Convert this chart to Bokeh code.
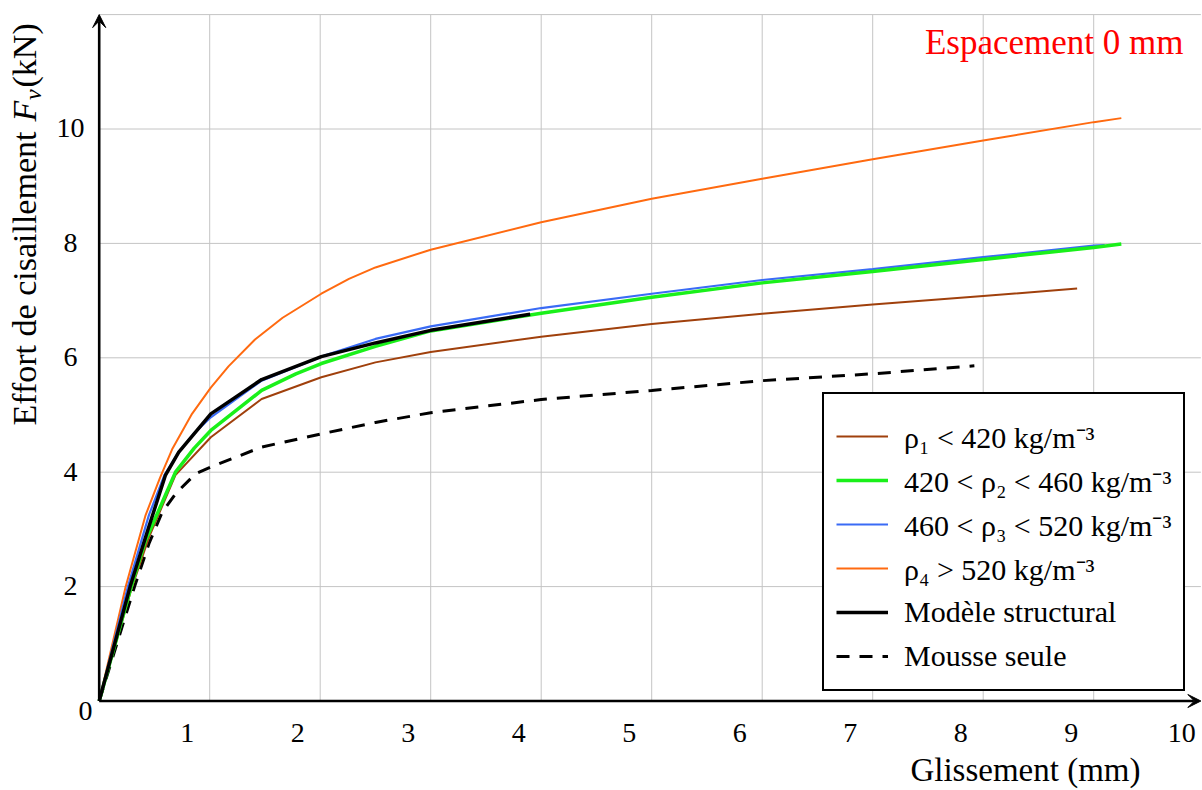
from math import pi
from bokeh.plotting import figure
from bokeh.models import Range1d, Legend, LegendItem, Arrow, VeeHead
from bokeh.core.properties import value
from bokeh.embed import file_html
from bokeh.resources import INLINE

# ---------------- data (Glissement mm, Effort de cisaillement kN) ----------------
rho1_x = [0, 0.29, 0.45, 0.69, 1.01, 1.47, 2.01, 2.5, 3.0, 4.0, 5.0, 6.0, 7.0, 8.0, 8.85]
rho1_y = [0, 1.95, 2.86, 3.95, 4.61, 5.28, 5.66, 5.92, 6.10, 6.37, 6.59, 6.77, 6.93, 7.08, 7.21]

rho2_x = [0, 0.29, 0.42, 0.69, 0.86, 1.01, 1.47, 1.78, 2.01, 2.5, 3.0, 4.0, 5.0, 6.0, 7.0, 8.0, 9.0, 9.25]
rho2_y = [0, 2.00, 2.81, 4.00, 4.42, 4.73, 5.43, 5.72, 5.90, 6.20, 6.47, 6.78, 7.06, 7.31, 7.51, 7.72, 7.93, 7.99]

rho3_x = [0, 0.26, 0.45, 0.59, 0.72, 0.86, 1.01, 1.47, 2.01, 2.5, 3.0, 4.0, 5.0, 6.0, 7.0, 8.0, 9.0, 9.10]
rho3_y = [0, 2.00, 3.25, 3.95, 4.35, 4.68, 4.96, 5.60, 6.02, 6.33, 6.55, 6.87, 7.12, 7.36, 7.55, 7.76, 7.96, 7.97]

rho4_x = [0, 0.24, 0.42, 0.55, 0.66, 0.84, 1.01, 1.17, 1.41, 1.66, 2.01, 2.26, 2.50, 3.0, 4.0, 5.0, 6.0, 7.0, 8.0, 9.0, 9.25]
rho4_y = [0, 2.00, 3.25, 3.90, 4.40, 5.02, 5.48, 5.85, 6.32, 6.70, 7.12, 7.38, 7.58, 7.89, 8.37, 8.78, 9.13, 9.47, 9.80, 10.12, 10.19]

model_x = [0, 0.28, 0.45, 0.60, 0.72, 1.01, 1.47, 2.01, 2.5, 3.0, 3.90]
model_y = [0, 2.00, 3.05, 3.95, 4.35, 5.02, 5.62, 6.02, 6.26, 6.48, 6.76]

foam_x = [0, 0.32, 0.45, 0.57, 0.69, 0.87, 1.01, 1.47, 2.01, 2.5, 3.0, 4.0, 5.0, 6.0, 7.0, 7.92]
foam_y = [0, 2.00, 2.75, 3.30, 3.62, 3.97, 4.09, 4.44, 4.67, 4.87, 5.04, 5.27, 5.43, 5.60, 5.72, 5.86]

labels = ["ρ₁ < 420 kg/m⁻³", "420 < ρ₂ < 460 kg/m⁻³", "460 < ρ₃ < 520 kg/m⁻³",
          "ρ₄ > 520 kg/m⁻³", "Modèle structural", "Mousse seule"]

x_ticks = [1, 2, 3, 4, 5, 6, 7, 8, 9, 10]
y_ticks = [2, 4, 6, 8, 10]
x_grid = [1, 2, 3, 4, 5, 6, 7, 8, 9, 10]
y_grid = [2, 4, 6, 8, 10, 12]

# ---------------- styling / layout ----------------
BROWN = "#A0400C"
GREEN = "#1AF01A"
BLUE = "#3A6BF5"
ORANGE = "#FF6A10"
GRID = "#c4c4c4"
FONT = "Liberation Serif"

W, H = 1202, 790
OX, OY = 98.7, 700.5          # canvas position of the origin (px from top-left)
SX, SY = 110.5, 57.2          # px per mm, px per kN
X_MAX, Y_MAX = 9.97, 12
BASE = 0.34                   # baseline correction, in em


def xd(px):
    return (px - OX) / SX


def yd(py):
    return (OY - py) / SY


def yb(py, fs):
    """data y for a text whose alphabetic baseline should sit at canvas row py"""
    return yd(py - BASE * fs)


def xb(px, fs):
    """data x for a rotated (pi/2) text whose baseline should sit at canvas column px"""
    return xd(px - BASE * fs)


p = figure(width=W, height=H, output_backend="svg", toolbar_location=None,
           x_range=Range1d(xd(0), xd(W)), y_range=Range1d(yd(H), yd(0)),
           x_axis_location=None, y_axis_location=None,
           min_border_left=0, min_border_right=0, min_border_top=0, min_border_bottom=0)
p.outline_line_color = None
p.background_fill_color = "white"
for g in p.grid:
    g.visible = False

# grid
p.segment(x0=x_grid, y0=0, x1=x_grid, y1=Y_MAX, line_color=GRID, line_width=1)
p.segment(x0=0, y0=y_grid, x1=X_MAX, y1=y_grid, line_color=GRID, line_width=1)

# curves
r_foam = p.line(foam_x, foam_y, line_color="black", line_width=3, line_dash="13 10")
r1 = p.line(rho1_x, rho1_y, line_color=BROWN, line_width=2)
r4 = p.line(rho4_x, rho4_y, line_color=ORANGE, line_width=2)
r3 = p.line(rho3_x, rho3_y, line_color=BLUE, line_width=2.2)
r2 = p.line(rho2_x, rho2_y, line_color=GREEN, line_width=3.5)
rm = p.line(model_x, model_y, line_color="black", line_width=3.5)

# axis lines with arrow heads
p.add_layout(Arrow(end=VeeHead(size=13, fill_color="black", line_color="black", line_width=1),
                   x_start=0, y_start=0, x_end=X_MAX, y_end=0, line_width=2.6, line_color="black"))
p.add_layout(Arrow(end=VeeHead(size=13, fill_color="black", line_color="black", line_width=1),
                   x_start=0, y_start=0, x_end=0, y_end=Y_MAX, line_width=2.6, line_color="black"))

# tick labels (placed as in the original: x labels sit left of their grid line)
TICK_FS = 28
LABEL_SHIFT = 22.5 / SX
p.text(x=[t - LABEL_SHIFT for t in x_ticks], y=[yb(742, TICK_FS)] * len(x_ticks),
       text=[str(t) for t in x_ticks], text_align="center", text_baseline="alphabetic",
       text_font=value(FONT), text_font_size=f"{TICK_FS}px", text_color="black")
p.text(x=[xd(70)] * len(y_ticks), y=[t - (9 - BASE * TICK_FS) / SY for t in y_ticks],
       text=[str(t) for t in y_ticks], text_align="center", text_baseline="alphabetic",
       text_font=value(FONT), text_font_size=f"{TICK_FS}px", text_color="black")
p.text(x=[xd(85)], y=[yb(720, TICK_FS)], text=["0"], text_align="center",
       text_baseline="alphabetic", text_font=value(FONT), text_font_size=f"{TICK_FS}px",
       text_color="black")

# titles
p.text(x=[xd(1183)], y=[yb(54, 35)], text=["Espacement 0 mm"], text_align="right",
       text_baseline="alphabetic", text_font=value(FONT), text_font_size="35px",
       text_color="#FF0000")
p.text(x=[xd(1140)], y=[yb(781, 33)], text=["Glissement (mm)"], text_align="right",
       text_baseline="alphabetic", text_font=value(FONT), text_font_size="33px",
       text_color="black")
# y-axis title, in pieces (rotated): "Effort de cisaillement F_v(kN)"
p.text(x=[xb(36, 34)], y=[yd(425)], text=["Effort de cisaillement"], angle=pi / 2,
       text_align="left", text_baseline="alphabetic", text_font=value(FONT),
       text_font_size="34px", text_color="black")
p.text(x=[xb(36, 34)], y=[yd(121)], text=["F"], angle=pi / 2, text_align="left",
       text_baseline="alphabetic", text_font=value(FONT), text_font_style="italic",
       text_font_size="34px", text_color="black")
p.text(x=[xb(41, 24)], y=[yd(99.5)], text=["v"], angle=pi / 2, text_align="left",
       text_baseline="alphabetic", text_font=value(FONT), text_font_style="italic",
       text_font_size="24px", text_color="black")
p.text(x=[xb(36, 34)], y=[yd(87)], text=["(kN)"], angle=pi / 2, text_align="left",
       text_baseline="alphabetic", text_font=value(FONT),
       text_font_size="34px", text_color="black")

legend = Legend(items=[LegendItem(label=l, renderers=[r]) for l, r in
                       zip(labels, [r1, r2, r3, r4, rm, r_foam])],
                location=(822, 99), margin=0, padding=12, spacing=2,
                glyph_width=52, glyph_height=42, label_height=42, label_width=250,
                label_standoff=16, label_text_font=FONT, label_text_font_size="30px",
                label_text_color="black",
                title=" ", title_text_font_size="8px", title_standoff=0,
                border_line_color="black", border_line_width=2, border_line_alpha=1,
                background_fill_color="white", background_fill_alpha=1)
p.add_layout(legend)

open("out.html", "w").write(file_html(p, INLINE))
